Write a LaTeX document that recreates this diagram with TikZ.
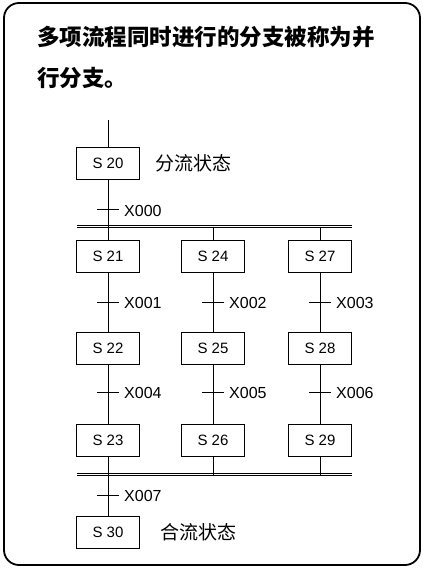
\documentclass[tikz,border=0pt]{standalone}
\usepackage{fontspec}
\setmainfont{Liberation Sans}
\newfontfamily\cjk{Noto Sans CJK SC}
\begin{document}
\begin{tikzpicture}[x=1pt,y=-1pt,
  frame/.style={line width=1.8pt, rounded corners=15pt},
  stbox/.style={draw, line width=0.9pt, minimum width=63pt, minimum height=32pt, inner sep=0pt, font=\fontsize{15}{15}\selectfont},
  lnk/.style={line width=0.9pt},
  tick/.style={line width=1pt},
  tlabel/.style={anchor=west, inner sep=0pt, font=\fontsize{16}{16}\selectfont},
  bar/.style={double, line width=0.9pt, double distance=1.8pt},
  note/.style={anchor=west, inner sep=0pt, font=\cjk\fontsize{19}{19}\selectfont},
  ttl/.style={anchor=west, inner sep=0pt, font=\cjk\bfseries\fontsize{22.5}{22.5}\selectfont}
]
\useasboundingbox (0,0) rectangle (423,568);
\draw[frame] (4,3) rectangle (420,565);
\node[ttl] (title1) at (37,37) {多项流程同时进行的分支被称为并};
\node[ttl] (title2) at (37,78) {行分支。};

% top state
\coordinate (top) at (108,120);
\node[stbox] (s20) at (108,163) {S 20};
\node[note] (n20) at (155,163) {分流状态};
\draw[lnk] (top) -- (s20);

% branch bar
\coordinate (b1l) at (77,226.5);
\coordinate (b1r) at (352,226.5);
\draw[bar] (b1l) -- (b1r);
\coordinate (t0) at (108,209);
\draw[lnk] (s20) -- (s20 |- b1l);
\draw[tick] ([xshift=-11pt]t0) -- ([xshift=11pt]t0);
\node[tlabel] (l0) at (124,211) {X000};

% columns
\foreach \c/\x/\a/\b/\cc/\ta/\tb in {1/108/21/22/23/X001/X004, 2/213/24/25/26/X002/X005, 3/320/27/28/29/X003/X006}{
  \node[stbox] (sa\c) at (\x,256) {S \a};
  \node[stbox] (sb\c) at (\x,348) {S \b};
  \node[stbox] (sc\c) at (\x,440) {S \cc};
  \coordinate (ta\c) at (\x,302);
  \coordinate (tb\c) at (\x,392);
  \draw[lnk] (sa\c |- b1l) -- (sa\c);
  \draw[lnk] (sa\c) -- (sb\c);
  \draw[lnk] (sb\c) -- (sc\c);
  \draw[tick] ([xshift=-11pt]ta\c) -- ([xshift=11pt]ta\c);
  \draw[tick] ([xshift=-11pt]tb\c) -- ([xshift=11pt]tb\c);
  \node[tlabel] (la\c) at (\x+16,303) {\ta};
  \node[tlabel] (lb\c) at (\x+16,393) {\tb};
}

% merge bar
\coordinate (b2l) at (77,474.5);
\coordinate (b2r) at (352,474.5);
\draw[bar] (b2l) -- (b2r);
\foreach \c in {1,2,3}{
  \draw[lnk] (sc\c) -- (sc\c |- b2l);
}

% bottom state
\node[stbox] (s30) at (108,532) {S 30};
\node[note] (n30) at (160,532) {合流状态};
\coordinate (t7) at (108,495);
\draw[lnk] (s30 |- b2l) -- (s30);
\draw[tick] ([xshift=-11pt]t7) -- ([xshift=11pt]t7);
\node[tlabel] (l7) at (124,496) {X007};
\end{tikzpicture}
\end{document}
